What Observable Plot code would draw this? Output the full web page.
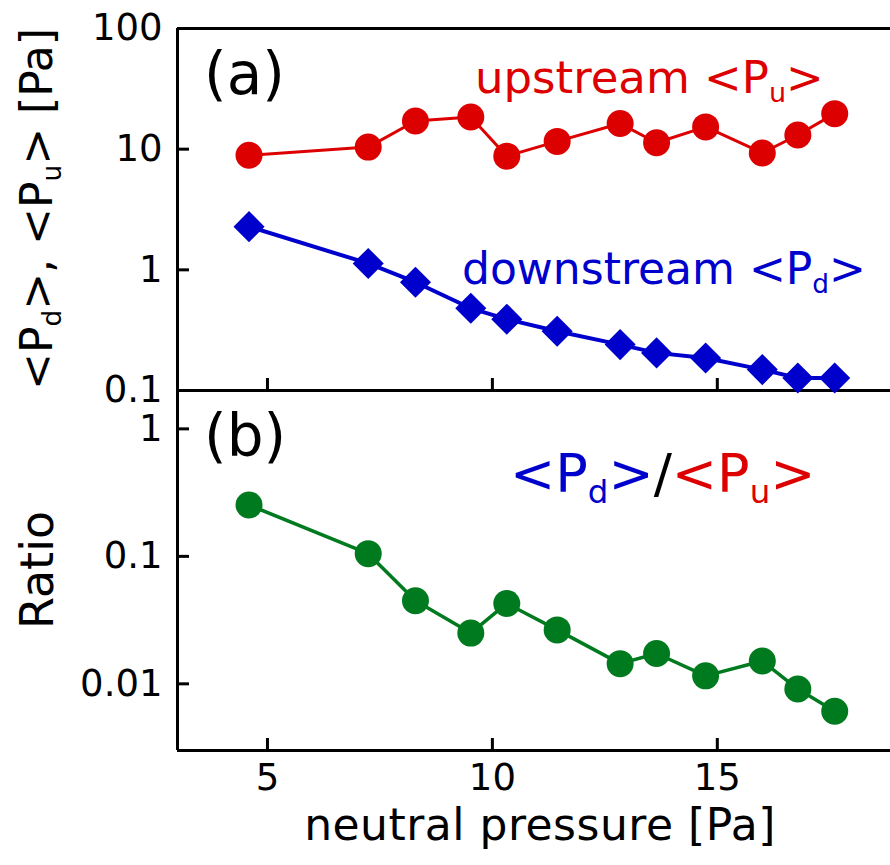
<!DOCTYPE html>
<html><head><meta charset="utf-8">
<script src="https://cdn.jsdelivr.net/npm/d3@7"></script>
<script src="https://cdn.jsdelivr.net/npm/@observablehq/plot@0.6"></script>
<style>
body{margin:0;background:#fff;overflow:hidden}
#chart{position:relative;width:890px;height:865px}
#chart svg{position:absolute;left:0}
</style>
</head><body><div id="chart"></div>
<script>
// ---- data ----
const pressure   = [4.59, 7.24, 8.29, 9.52, 10.32, 11.44, 12.84, 13.65, 14.74, 16.0, 16.79, 17.61];
const upstream   = [8.9, 10.4, 17.1, 18.5, 8.75, 11.6, 16.3, 11.3, 15.3, 9.3, 13.1, 19.7];
const downstream = [2.28, 1.13, 0.79, 0.48, 0.39, 0.31, 0.24, 0.205, 0.186, 0.149, 0.127, 0.127];
const ratio      = [0.253, 0.105, 0.0448, 0.025, 0.0427, 0.0265, 0.0144, 0.0173, 0.01155, 0.0151, 0.0091, 0.0061];
const xTicks  = [5, 10, 15];
const yTicksA = [0.1, 1, 10, 100];
const yTicksB = [0.01, 0.1, 1];
const xDomain  = [3, 18.85];
const yDomainA = [0.1, 100];
const yDomainB = [0.003, 2];

const RED = "#dd0000", BLUE = "#0000cc", GREEN = "#007a1e";
const FONT = "DejaVu Sans";

const rowsU = pressure.map((p, i) => ({p, v: upstream[i]}));
const rowsD = pressure.map((p, i) => ({p, v: downstream[i]}));
const rowsR = pressure.map((p, i) => ({p, v: ratio[i]}));

const common = {
  width: 890, marginLeft: 177, marginRight: 0,
  x: {domain: xDomain},
  style: {fontFamily: FONT, fontSize: "37px", color: "black", background: "transparent", overflow: "visible"}
};

const plotA = Plot.plot({
  ...common, height: 391, marginTop: 28, marginBottom: 1,
  y: {type: "log", domain: yDomainA},
  marks: [
    Plot.ruleY([yDomainA[1], yDomainA[0]], {stroke: "black", strokeWidth: 3}),
    Plot.ruleX([xDomain[0]], {stroke: "black", strokeWidth: 3}),
    Plot.axisY({ticks: yTicksA, tickFormat: d => String(d), tickSize: -12, tickPadding: 27, strokeWidth: 3, label: null}),
    Plot.axisX({ticks: xTicks, tickFormat: () => "", tickSize: -12, strokeWidth: 3, label: null}),
    Plot.line(rowsU, {x: "p", y: "v", stroke: RED, strokeWidth: 3}),
    Plot.dot(rowsU, {x: "p", y: "v", r: 13.5, fill: RED}),
    Plot.line(rowsD, {x: "p", y: "v", stroke: BLUE, strokeWidth: 4}),
    Plot.dot(rowsD, {x: "p", y: "v", r: 14, fill: BLUE, symbol: d3.symbolDiamond2})
  ]
});

const plotB = Plot.plot({
  ...common, height: 475, marginTop: 0, marginBottom: 115,
  y: {type: "log", domain: yDomainB},
  marks: [
    Plot.ruleY([yDomainB[0]], {stroke: "black", strokeWidth: 3}),
    Plot.ruleX([xDomain[0]], {stroke: "black", strokeWidth: 3}),
    Plot.axisY({ticks: yTicksB, tickFormat: d => String(d), tickSize: -12, tickPadding: 27, strokeWidth: 3, label: null}),
    Plot.axisX({ticks: xTicks, tickFormat: d => String(d), tickSize: -12, tickPadding: 25, strokeWidth: 3, label: null}),
    Plot.line(rowsR, {x: "p", y: "v", stroke: GREEN, strokeWidth: 3.5}),
    Plot.dot(rowsR, {x: "p", y: "v", r: 13.5, fill: GREEN})
  ]
});

const chart = document.getElementById("chart");
plotA.style.top = "0px";
plotB.style.top = "390px";
chart.appendChild(plotA);
chart.appendChild(plotB);

function addLabel(svg, {x, y, size, anchor = "start", rotate = 0, parts, spacing = 0}) {
  const t = d3.select(svg).append("text")
    .attr("transform", `translate(${x},${y}) rotate(${rotate})`)
    .attr("text-anchor", anchor)
    .attr("font-family", FONT)
    .attr("font-size", size)
    .attr("letter-spacing", spacing);
  let shift = 0;
  for (const [s, color, sub] of parts) {
    const sp = t.append("tspan").text(s).attr("fill", color);
    if (sub) {
      const d = size * 0.2;
      sp.attr("font-size", size * 0.6).attr("dy", d - shift);
      shift = d;
    } else if (shift) {
      sp.attr("dy", -shift);
      shift = 0;
    }
  }
}

// panel (a) texts
addLabel(plotA, {x: 204, y: 94, size: 58, parts: [["(a)", "black"]]});
addLabel(plotA, {x: 475, y: 93, size: 45, parts: [["upstream <P", RED], ["u", RED, true], [">", RED]]});
addLabel(plotA, {x: 462, y: 284, size: 44, parts: [["downstream <P", BLUE], ["d", BLUE, true], [">", BLUE]]});
addLabel(plotA, {x: 52, y: 209, size: 44, anchor: "middle", rotate: -90,
  parts: [["<P", "black"], ["d", "black", true], [">, <P", "black"], ["u", "black", true], ["> [Pa]", "black"]]});

// panel (b) texts
addLabel(plotB, {x: 204, y: 66, size: 58, parts: [["(b)", "black"]]});
addLabel(plotB, {x: 510, y: 102, size: 54, parts: [["<P", BLUE], ["d", BLUE, true], [">", BLUE], ["/", "black"], ["<P", RED], ["u", RED, true], [">", RED]]});
addLabel(plotB, {x: 53, y: 180, size: 46, anchor: "middle", rotate: -90, parts: [["Ratio", "black"]]});
addLabel(plotB, {x: 540, y: 450, size: 44, anchor: "middle", spacing: 0.5, parts: [["neutral pressure [Pa]", "black"]]});
</script>
</body></html>
